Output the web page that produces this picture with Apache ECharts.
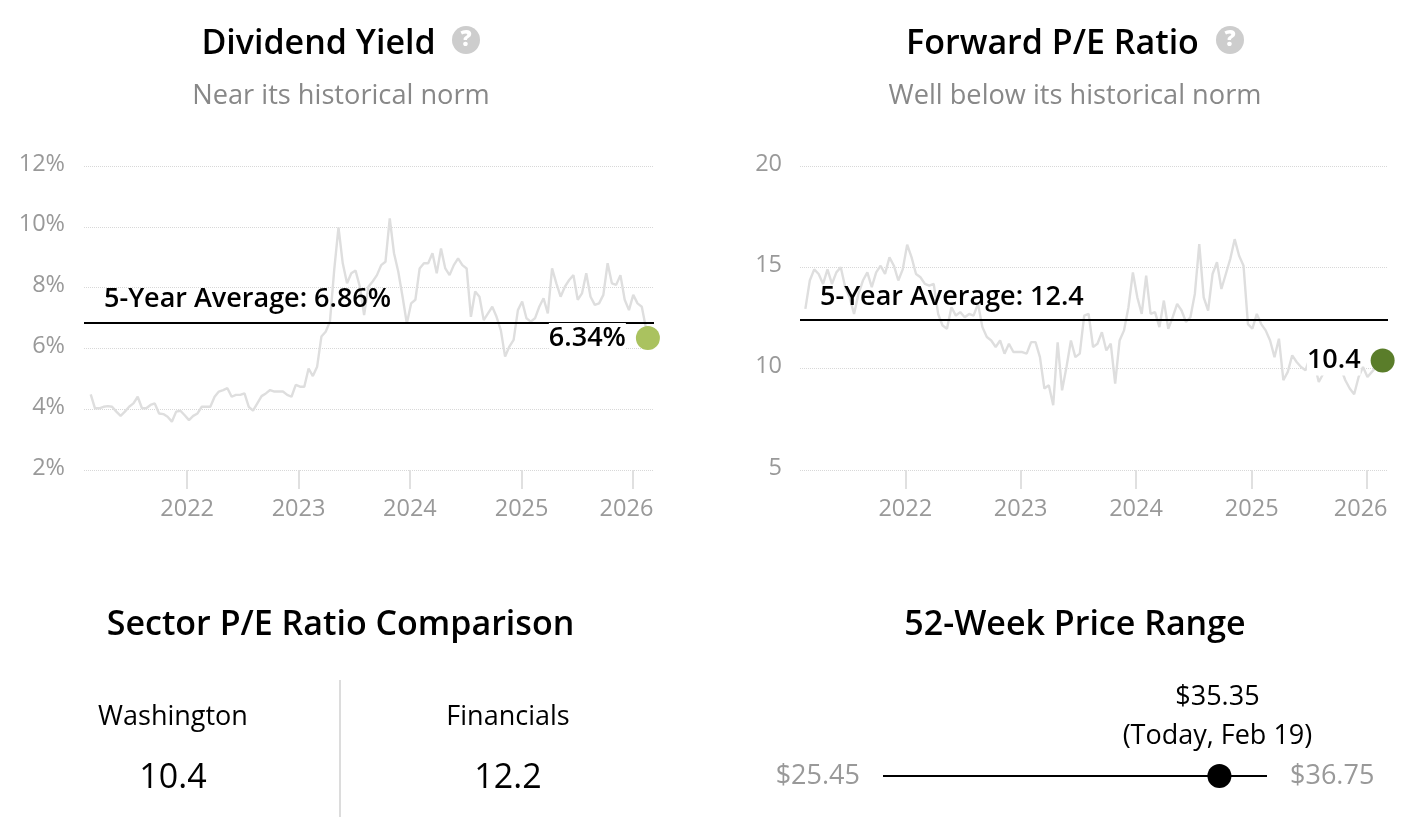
<!DOCTYPE html>
<html>
<head>
<meta charset="utf-8">
<style>html,body{margin:0;padding:0;background:#fff}#c{width:1418px;height:840px}</style>
<script src="https://cdn.jsdelivr.net/npm/echarts@6/dist/echarts.min.js"></script>
</head>
<body>
<div id="c"></div>
<script>
const yearTicks = ['2022-01-01','2023-01-01','2024-01-01','2025-01-01','2026-01-01'];
const firstDate = '2021-02-19';
const lastDate = '2026-02-19';
const stepDays = 14;
const yieldValues = [
4.49,4.03,4.03,4.08,4.1,4.08,3.92,3.78,3.92,4.08,
4.19,4.41,4.03,4.03,4.14,4.19,3.86,3.84,3.75,3.59,
3.92,3.95,3.8,3.64,3.78,3.86,4.08,4.08,4.08,4.41,
4.58,4.63,4.69,4.41,4.47,4.47,4.52,4.08,3.95,4.19,
4.43,4.52,4.63,4.58,4.58,4.58,4.47,4.41,4.8,4.74,
4.74,5.34,5.09,5.4,6.39,6.55,6.88,8.58,9.98,8.8,
8.14,8.47,8.56,8.03,7.1,8.03,8.2,8.41,8.74,8.85,
10.28,9.13,8.52,7.7,6.82,7.48,7.6,8.63,8.8,8.8,
9.13,8.47,9.29,8.63,8.41,8.74,8.96,8.74,8.63,7.04,
7.87,7.7,6.93,7.15,7.37,7.04,6.6,5.73,6.06,6.28,
7.26,7.54,6.99,6.88,6.99,7.37,7.65,7.15,8.63,8.14,
7.7,8.03,8.25,8.41,7.6,7.81,8.47,7.7,7.43,7.48,
7.76,8.8,8.14,8.09,8.41,7.6,7.26,7.76,7.48,7.37,
6.34];
const peValues = [
12.95,14.35,14.9,14.67,14.18,14.9,14.18,14.75,15.0,14.02,
13.52,12.7,13.69,14.35,14.75,14.02,14.75,15.08,14.67,15.49,
15.08,14.35,14.9,16.12,15.49,14.67,14.51,14.18,14.1,14.18,
12.7,12.13,11.97,13.03,12.62,12.79,12.54,12.7,12.62,13.2,
12.05,11.56,11.39,11.07,11.39,10.74,11.23,10.82,10.82,10.82,
10.74,11.31,11.31,10.57,9.02,9.18,8.2,11.3,8.93,10.08,
11.39,10.57,10.74,12.62,12.7,11.07,11.23,11.8,10.9,11.23,
9.26,11.39,11.89,13.03,14.75,13.52,12.7,14.59,12.7,12.79,
12.05,13.36,11.97,12.54,13.2,12.87,12.3,12.54,13.69,16.15,
13.52,12.87,14.67,15.25,13.93,14.67,15.41,16.39,15.57,15.08,
12.2,11.97,12.7,12.2,11.89,11.39,10.57,11.48,9.43,9.84,
10.66,10.33,10.08,9.92,10.57,10.25,9.34,9.75,10.0,9.9,
10.2,10.0,9.43,9.02,8.74,9.59,10.08,9.59,9.84,10.08,
10.4];
const yieldAverage = 6.86;
const peAverage = 12.4;
const priceLow = 25.45;
const priceHigh = 36.75;
const priceToday = 35.35;
const sectorNames = ['Washington','Financials'];
const sectorPE = [10.4,12.2];

const FONT = '"Open Sans"';
const DAY = 86400000;
function ts(s){ return new Date(s+'T00:00:00Z').getTime(); }
function pairs(vals){
  return vals.map((v,i)=>[i===vals.length-1 ? ts(lastDate) : ts(firstDate)+i*stepDays*DAY, v]);
}
const tickTs = yearTicks.map(ts);

function xAxis(gridIndex,minD,maxD){
  return {
    type:'value', gridIndex, min:ts(minD), max:ts(maxD), scale:true,
    axisLine:{show:false}, splitLine:{show:false},
    axisTick:{show:true,customValues:tickTs,length:19,lineStyle:{color:'#e0e0e0',width:2}},
    axisLabel:{show:true,customValues:tickTs,margin:27,hideOverlap:false,color:'#999',fontFamily:FONT,fontSize:23.5,
      formatter:function(v){var y=String(new Date(v).getUTCFullYear());return y==='2026'?'{s|'+y+'}':y;},
      rich:{s:{color:'#999',fontFamily:FONT,fontSize:23.5,padding:[0,13,0,0]}}}
  };
}
function yAxis(gridIndex,min,max,interval,suffix,margin){
  return {
    type:'value', gridIndex, min, max, interval,
    axisLine:{show:false}, axisTick:{show:false},
    splitLine:{show:true,lineStyle:{color:'#d8d8d8',type:'dotted',width:1}},
    axisLabel:{color:'#999',fontFamily:FONT,fontSize:23.5,margin,
      formatter:function(v){return '{t|'+v+suffix+'}';},
      rich:{t:{color:'#999',fontFamily:FONT,fontSize:23.5,padding:[0,0,4,0]}}}
  };
}
function avgMark(avg,text){
  return {silent:true,symbol:'none',animation:false,
    lineStyle:{color:'#000',width:2,type:'solid'},
    label:{show:true,position:'insideStartTop',formatter:text,color:'#000',fontFamily:FONT,fontWeight:600,fontSize:27,distance:[20,9]},
    data:[{yAxis:avg}]};
}
function priceSeries(i,vals,avg,text){
  return {type:'line',xAxisIndex:i,yAxisIndex:i,data:pairs(vals),showSymbol:false,symbol:'none',
    lineStyle:{color:'#dedede',width:2.4},z:2,markLine:avgMark(avg,text),emphasis:{disabled:true}};
}
function lastDot(i,vals,color,text,dist){
  return {type:'scatter',xAxisIndex:i,yAxisIndex:i,data:[pairs(vals)[vals.length-1]],symbolSize:24,z:6,
    itemStyle:{color,opacity:1},
    label:{show:true,position:'left',distance:dist,formatter:text,color:'#000',fontFamily:FONT,fontWeight:600,fontSize:27,
      lineHeight:30,backgroundColor:'#fff'}};
}
function head(text,x,y,size,weight,color){
  return {text,left:x,top:y,textAlign:'center',textStyle:{fontFamily:FONT,fontSize:size,fontWeight:weight,color},padding:0,itemGap:0};
}
function help(cx,cy){
  return {type:'group',children:[
    {type:'circle',shape:{cx,cy,r:14},style:{fill:'#cdcdcd'}},
    {type:'text',x:cx,y:cy,style:{text:'?',fill:'#fff',font:'800 22px "Open Sans"',align:'center',verticalAlign:'middle'}}
  ]};
}
function centerText(text,x,y,size,color){
  return {type:'text',x,y,style:{text,fill:color,font:size+'px "Open Sans"',align:'center',verticalAlign:'middle'}};
}

const option = {
  backgroundColor:'#fff', animation:false,
  title:[
    head('Dividend Yield',318.5,27,34,600,'#000'),
    head('Near its historical norm',341,83,27.2,400,'#888'),
    head('Forward P/E Ratio',1052.5,27,34,600,'#000'),
    head('Well below its historical norm',1075,83,27.2,400,'#888'),
    head('Sector P/E Ratio Comparison',340.5,608,34,600,'#000'),
    head('52-Week Price Range',1075,608,34,600,'#000')
  ],
  grid:[
    {left:84,top:166,width:570,height:304},
    {left:800,top:166,width:588,height:304},
    {left:883,top:766,width:384,height:20}
  ],
  xAxis:[
    xAxis(0,'2021-01-28','2026-03-11'),
    xAxis(1,'2021-02-02','2026-03-08'),
    {type:'value',gridIndex:2,min:priceLow,max:priceHigh,show:false}
  ],
  yAxis:[
    yAxis(0,2,12,2,'%',19),
    yAxis(1,5,20,5,'',18),
    {type:'value',gridIndex:2,min:-1,max:1,show:false}
  ],
  series:[
    priceSeries(0,yieldValues,yieldAverage,'5-Year Average: '+yieldAverage.toFixed(2)+'%'),
    lastDot(0,yieldValues,'#aac25f',yieldValues[yieldValues.length-1].toFixed(2)+'%',10),
    priceSeries(1,peValues,peAverage,'5-Year Average: '+peAverage),
    lastDot(1,peValues,'#5a7d2a',String(peValues[peValues.length-1]),10),
    {type:'line',xAxisIndex:2,yAxisIndex:2,symbol:'none',showSymbol:true,lineStyle:{color:'#000',width:2},
      data:[
        {value:[priceLow,0],symbol:'circle',symbolSize:0.1,label:{show:true,position:'left',distance:23,formatter:'$'+priceLow.toFixed(2),color:'#999',fontFamily:FONT,fontSize:27}},
        {value:[priceHigh,0],symbol:'circle',symbolSize:0.1,label:{show:true,position:'right',distance:23,formatter:'$'+priceHigh.toFixed(2),color:'#999',fontFamily:FONT,fontSize:27}}
      ]},
    {type:'scatter',xAxisIndex:2,yAxisIndex:2,data:[[priceToday,0]],symbolSize:24,itemStyle:{color:'#000',opacity:1},z:5,
      label:{show:true,position:'top',distance:8,formatter:'$'+priceToday.toFixed(2)+'\n(Today, Feb 19)',color:'#000',fontFamily:FONT,fontSize:27,lineHeight:39,offset:[-2,0]}}
  ],
  graphic:[
    help(466,40), help(1230,40),
    {type:'rect',shape:{x:339,y:680,width:2,height:137},style:{fill:'#dcdcdc'}},
    centerText(sectorNames[0],173,717,27,'#000'),
    centerText(sectorNames[1],508,717,27,'#000'),
    centerText(String(sectorPE[0]),173,778,34,'#000'),
    centerText(String(sectorPE[1]),508,778,34,'#000')
  ]
};
echarts.init(document.getElementById('c'),null,{renderer:'canvas'}).setOption(option);
</script>
</body>
</html>
